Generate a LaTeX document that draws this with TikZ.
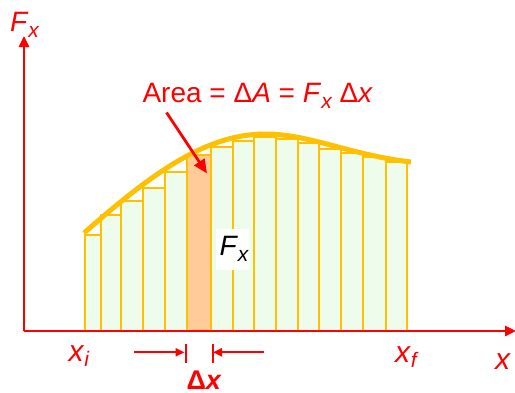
\documentclass[tikz,border=0pt]{standalone}
\usepackage{fontspec}
\setmainfont{Liberation Sans}
\usetikzlibrary{arrows.meta}
\definecolor{axred}{HTML}{FF0000}
\definecolor{gold}{HTML}{FFC000}
\definecolor{barfill}{HTML}{EEFCEC}
\definecolor{orangefill}{HTML}{FFCC99}
\tikzset{
  axis/.style={draw=axred, line width=2.6pt, -{Triangle[length=11pt,width=10pt]}},
  bar/.style={draw=gold, line width=1.8pt, fill=barfill},
  hlbar/.style={draw=gold, line width=1.8pt, fill=orangefill},
  curve/.style={draw=gold, line width=5pt},
  lbl/.style={inner sep=0pt, outer sep=0pt, text=axred, anchor=base west, font=\fontsize{28}{30}\selectfont},
  dxarrow/.style={draw=axred, line width=2pt, -{Triangle[length=9pt,width=8pt]}},
  tick/.style={draw=axred, line width=2pt},
  callout/.style={draw=axred, line width=2.8pt, -{Triangle[length=14pt,width=12pt]}}
}
\newcommand{\subs}[1]{\raisebox{-6pt}{\fontsize{21}{22}\selectfont\itshape #1}}
\begin{document}
\begin{tikzpicture}[x=1pt,y=-1pt]
\useasboundingbox (0,0) rectangle (515,392);
% bars
\foreach \a/\b/\t in {85/101/235,101/121/215,121/143/201,143/165/188,165/187/172,211/233/147,233/254/141,254/276/137,276/298/139,298/319/143,319/341/149,341/363/153,363/386/157,386/407/162}{
  \path[bar] (\a,331) rectangle (\b,\t);
}
\path[hlbar] (187,331) rectangle (211,155);
% curve
\coordinate (c0) at (84,233);
\coordinate (cp) at (265,134);
\coordinate (c1) at (411,162);
\draw[curve] (c0) .. controls (150,175) and (205,134) .. (cp)
             .. controls (310,134) and (350,155) .. (c1);
% axes
\coordinate (O) at (24,331);
\coordinate (Ytop) at (24,36);
\coordinate (Xend) at (516,331);
\draw[axis] (O) -- (Ytop);
\draw[axis] (O) -- (Xend);
% labels
\node[lbl] (Fy) at (10,31.7) {\textit{F}\subs{x}};
\node[lbl] (area) at (142.5,102.3) {Area = Δ\textit{A} = \textit{F}\subs{x} Δ\textit{x}};
\node[fill=white, inner sep=0pt, minimum width=33pt, minimum height=41pt] (fxbox) at (232.7,249.6) {};
\node[lbl, text=black] (fx) at (219.5,255) {\textit{F}\subs{x}};
\node[lbl, font=\fontsize{30}{32}\selectfont] (xi) at (68.5,361) {\textit{x}\raisebox{-5pt}{\fontsize{21}{22}\selectfont\itshape i}};
\node[lbl, font=\fontsize{30}{32}\selectfont] (xf) at (395,362.5) {\textit{x}\raisebox{-5pt}{\fontsize{21}{22}\selectfont\itshape f}};
\node[lbl, font=\fontsize{30}{32}\selectfont] (xax) at (495,369) {\textit{x}};
\node[lbl, font=\bfseries\fontsize{27}{29}\selectfont] (dx) at (186.5,389.5) {Δ\textit{x}};
% callout arrow
\coordinate (cs) at (166.5,112.5);
\coordinate (ce) at (207,173.5);
\draw[callout] (cs) -- (ce);
% delta x arrows
\coordinate (la) at (134,352.3);
\coordinate (lb) at (184.5,352.3);
\coordinate (ra) at (264,352.3);
\coordinate (rb) at (213,352.3);
\coordinate (lt1) at (185.5,344);
\coordinate (lt2) at (185.5,363);
\coordinate (rt1) at (212.5,344);
\coordinate (rt2) at (212.5,363);
\draw[dxarrow] (la) -- (lb);
\draw[dxarrow] (ra) -- (rb);
\draw[tick] (lt1) -- (lt2);
\draw[tick] (rt1) -- (rt2);
\end{tikzpicture}
\end{document}
